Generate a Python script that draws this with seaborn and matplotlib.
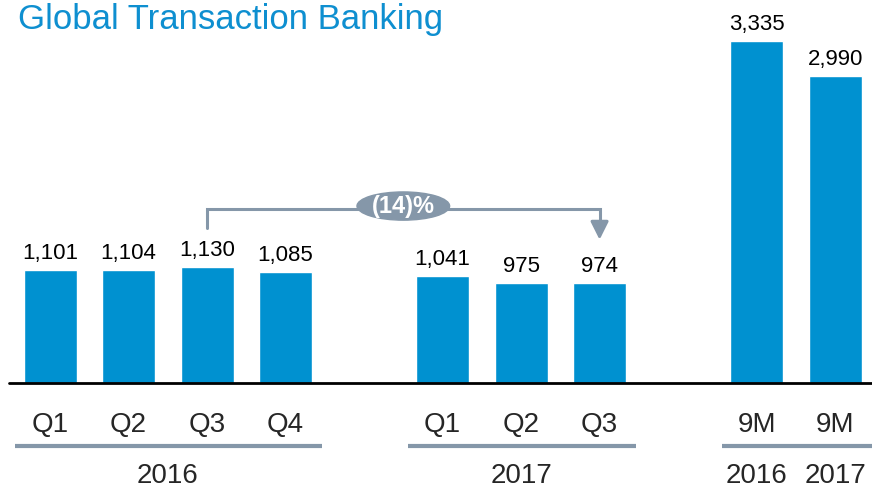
import matplotlib.pyplot as plt
import matplotlib.transforms as mtransforms
from matplotlib.patches import Ellipse
import seaborn as sns
import pandas as pd

# data
groups = ['2016', '2017', '9M']
period_labels = [['Q1', 'Q2', 'Q3', 'Q4'], ['Q1', 'Q2', 'Q3'], ['9M', '9M']]
values = [[1101, 1104, 1130, 1085], [1041, 975, 974], [3335, 2990]]
group_captions = [['2016'], ['2017'], ['2016', '2017']]
change_label = '(14)%'

BLUE = '#0091d0'
GREY = '#8597a9'

sns.set_theme(style='white')
plt.rcParams['font.family'] = ['Liberation Sans', 'DejaVu Sans']

# positions: one empty slot between groups
rows = []
pos = 0
group_pos = []
for g, labs, vals in zip(groups, period_labels, values):
    ps = []
    for lab, v in zip(labs, vals):
        rows.append({'pos': pos, 'label': lab, 'value': v, 'group': g})
        ps.append(pos)
        pos += 1
    group_pos.append(ps)
    pos += 1
df = pd.DataFrame(rows)

fig = plt.figure(figsize=(8.72, 4.87), dpi=100)
ax = fig.add_axes([0, 0, 1, 1])

sns.barplot(data=df, x='pos', y='value', native_scale=True, width=0.675,
            color=BLUE, saturation=1, ax=ax)

ax.set_xlim(-0.637, 10.47)
ax.set_ylim(-1013, 3733)
ax.axis('off')
ax.axhline(0, xmin=0.01, xmax=1, color='black', lw=2)

for _, r in df.iterrows():
    ax.annotate(f"{r['value']:,}", (r['pos'], r['value']), xytext=(0, 8),
                textcoords='offset points', ha='center', va='baseline',
                fontsize=16, color='black')

trans = mtransforms.blended_transform_factory(ax.transData, ax.transAxes)
for ps, labs, caps in zip(group_pos, period_labels, group_captions):
    for p, lab in zip(ps, labs):
        ax.text(p, 0.113, lab, transform=trans, ha='center', va='baseline',
                fontsize=20)
    ax.plot([ps[0] - 0.44, ps[-1] + 0.47], [0.0842, 0.0842], transform=trans,
            color=GREY, lw=3, solid_capstyle='butt', clip_on=False)
    if len(caps) == 1:
        ax.text((ps[0] + ps[-1]) / 2, 0.009, caps[0], transform=trans,
                ha='center', va='baseline', fontsize=20)
    else:
        for p, c in zip(ps, caps):
            ax.text(p, 0.009, c, transform=trans, ha='center', va='baseline',
                    fontsize=20)

# bracket from 2016 Q3 to 2017 Q3
x0 = group_pos[0][2]
x1 = group_pos[1][2]
y_top = 1696
ax.plot([x0, x0, x1, x1], [1510, y_top, y_top, 1480], color=GREY, lw=2.2,
        solid_joinstyle='miter')
ax.annotate('', xy=(x1, 1370), xytext=(x1, 1520),
            arrowprops=dict(arrowstyle='-|>,head_width=0.45,head_length=0.9',
                            color=GREY, lw=2.2))
xm = (x0 + x1) / 2
ax.add_patch(Ellipse((xm, 1725), 1.18, 275, color=GREY, zorder=3))
ax.text(xm, 1725, change_label, ha='center', va='center', color='white',
        fontsize=17, fontweight='bold', zorder=4)

fig.text(0.021, 0.9405, 'Global Transaction Banking', ha='left', va='baseline',
         fontsize=25, color='#0e8fd0')

fig.savefig('out.png', dpi=100)
